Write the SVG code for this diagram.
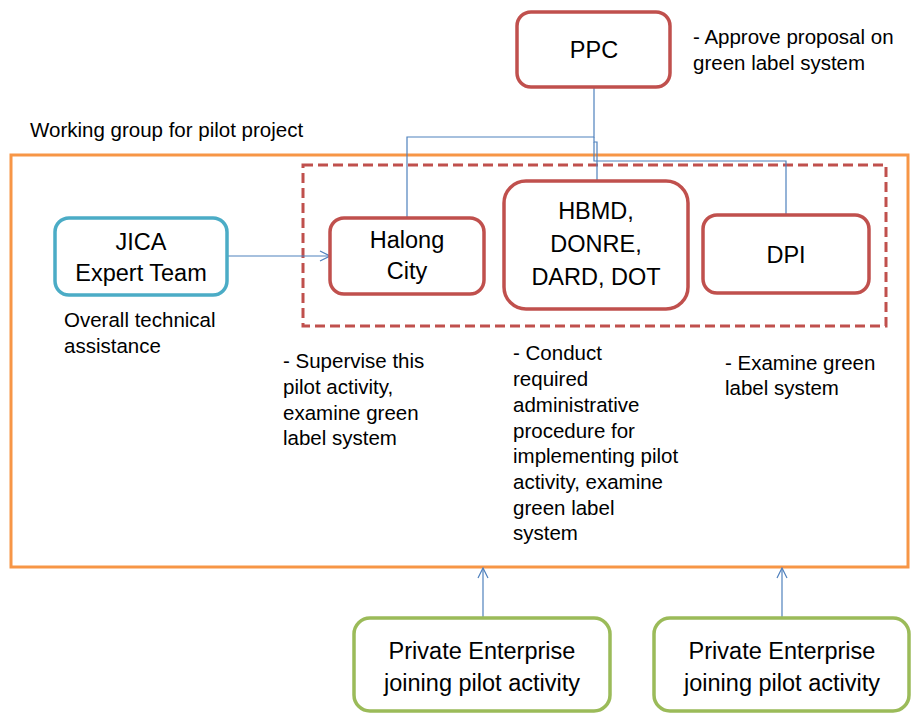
<svg xmlns="http://www.w3.org/2000/svg" width="911" height="713" viewBox="0 0 911 713">
<defs>
<style>
text{font-family:"Liberation Sans",Arial,sans-serif;fill:#000}
.bt{font-size:23.5px;text-anchor:middle}
.at{font-size:20.5px}
.red{fill:#fff;stroke:#C0504D;stroke-width:3.5}
.cn{fill:none;stroke:#4F81BD;stroke-width:1.2}
</style>
<marker id="ah" viewBox="0 0 12 12" refX="11" refY="6" markerWidth="12" markerHeight="12" markerUnits="userSpaceOnUse" orient="auto">
<path d="M1,1 L11,6 L1,11" fill="none" stroke="#4F81BD" stroke-width="1.2"/>
</marker>
</defs>
<rect width="911" height="713" fill="#fff"/>
<g id="working-group">
<rect x="11" y="155" width="897" height="412" fill="none" stroke="#F79646" stroke-width="3"/>
<text class="at" x="30" y="137">Working group for pilot project</text>
</g>
<g id="dashed-group">
<rect x="303" y="165" width="583" height="161" fill="none" stroke="#C0504D" stroke-width="3" stroke-dasharray="10,5"/>
</g>
<g id="connectors">
<path class="cn" d="M594,87 V137 H407 V217"/>
<path class="cn" d="M594,137 V142 H597 V181"/>
<path class="cn" d="M594,142 V161 H786 V215"/>
<path class="cn" d="M227,256 H330" marker-end="url(#ah)"/>
<path class="cn" d="M483,617 V568" marker-end="url(#ah)"/>
<path class="cn" d="M782,617 V568" marker-end="url(#ah)"/>
</g>
<g id="ppc">
<rect class="red" x="517" y="12" width="153" height="75" rx="14"/>
<text class="bt" x="594" y="58">PPC</text>
<text class="at" x="693" y="44">- Approve proposal on</text>
<text class="at" x="693" y="70">green label system</text>
</g>
<g id="jica">
<rect x="55" y="218" width="172" height="77" rx="14" fill="#fff" stroke="#4BACC6" stroke-width="3.5"/>
<text class="bt" x="141" y="250">JICA</text>
<text class="bt" x="141" y="281">Expert Team</text>
<text class="at" x="64" y="327">Overall technical</text>
<text class="at" x="64" y="353">assistance</text>
</g>
<g id="halong">
<rect class="red" x="330" y="218" width="154" height="76" rx="14"/>
<text class="bt" x="407" y="248">Halong</text>
<text class="bt" x="407" y="279">City</text>
<text class="at" x="283" y="368">- Supervise this</text>
<text class="at" x="283" y="394">pilot activity,</text>
<text class="at" x="283" y="420">examine green</text>
<text class="at" x="283" y="445">label system</text>
</g>
<g id="hbmd">
<rect class="red" x="504" y="181" width="184" height="128" rx="22"/>
<text class="bt" x="596" y="219">HBMD,</text>
<text class="bt" x="596" y="252">DONRE,</text>
<text class="bt" x="596" y="285">DARD, DOT</text>
<text class="at" x="513" y="360">- Conduct</text>
<text class="at" x="513" y="386">required</text>
<text class="at" x="513" y="412">administrative</text>
<text class="at" x="513" y="438">procedure for</text>
<text class="at" x="513" y="463">implementing pilot</text>
<text class="at" x="513" y="489">activity, examine</text>
<text class="at" x="513" y="515">green label</text>
<text class="at" x="513" y="540">system</text>
</g>
<g id="dpi">
<rect class="red" x="703" y="215" width="166" height="78" rx="14"/>
<text class="bt" x="786" y="263">DPI</text>
<text class="at" x="725" y="370">- Examine green</text>
<text class="at" x="725" y="395">label system</text>
</g>
<g id="enterprise-1">
<rect x="354" y="618" width="256" height="93" rx="16" fill="#fff" stroke="#9BBB59" stroke-width="3.5"/>
<text class="bt" x="482" y="659">Private Enterprise</text>
<text class="bt" x="482" y="691">joining pilot activity</text>
</g>
<g id="enterprise-2">
<rect x="654" y="618" width="255" height="93" rx="16" fill="#fff" stroke="#9BBB59" stroke-width="3.5"/>
<text class="bt" x="782" y="659">Private Enterprise</text>
<text class="bt" x="782" y="691">joining pilot activity</text>
</g>
</svg>
